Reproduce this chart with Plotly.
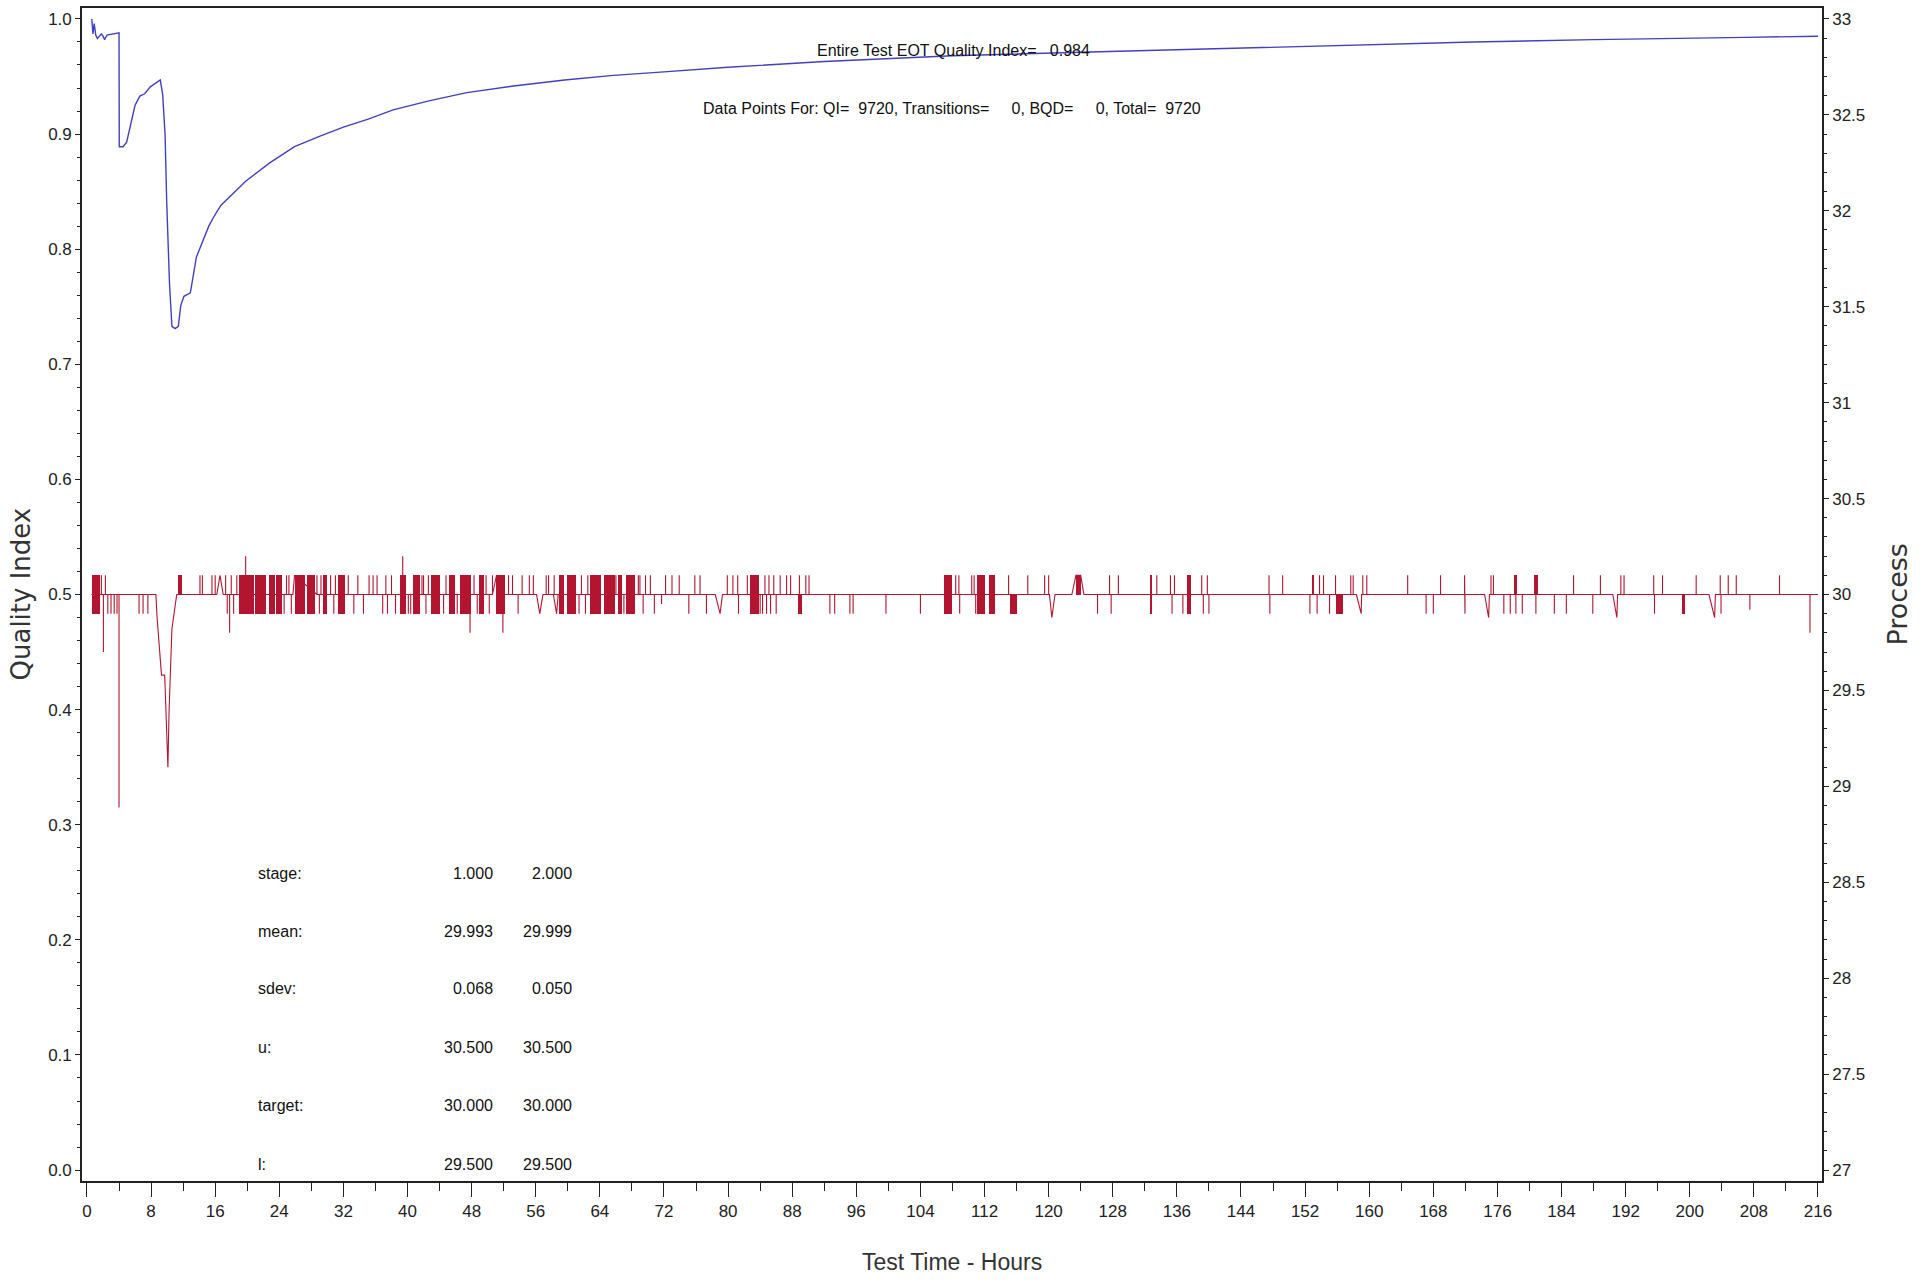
import plotly.graph_objects as go

# ---------------- data ----------------
# Quality index (left axis) vs test time (hours)
qi_hours = [0.6, 0.75, 0.9, 1.1, 1.3, 1.6, 1.8, 2.0, 2.2, 2.5, 3.3, 3.9, 4.0,
            4.03, 4.5, 4.95, 5.4, 6.0, 6.6, 7.2, 7.9, 8.5, 9.0, 9.15, 9.45, 9.75,
            9.95, 10.3, 10.6, 11.0, 11.4, 11.7, 12.1, 12.9, 13.65, 14.4, 15.2, 15.9,
            16.7, 19.8, 22.8, 25.9, 29.0, 32.0, 35.1, 38.2, 42.8, 47.4, 53.5, 59.6,
            65.7, 72.0, 80.0, 92.0, 108.0, 124.0, 140.0, 158.0, 173.0, 188.0, 200.0,
            207.0, 216.0]
qi_values = [1.000, 0.987, 0.996, 0.986, 0.983, 0.986, 0.987, 0.985, 0.982, 0.986, 0.987, 0.988, 0.988,
             0.889, 0.889, 0.893, 0.908, 0.925, 0.933, 0.935, 0.941, 0.944, 0.946, 0.947, 0.934, 0.899,
             0.841, 0.770, 0.733, 0.731, 0.733, 0.751, 0.759, 0.762, 0.793, 0.806, 0.820, 0.829,
             0.838, 0.859, 0.875, 0.889, 0.898, 0.906, 0.913, 0.921, 0.929, 0.936, 0.942, 0.947,
             0.951, 0.954, 0.958, 0.963, 0.968, 0.971, 0.974, 0.977, 0.980, 0.982, 0.983,
             0.984, 0.985]

# Process (right axis): single excursions from the 30.0 baseline
spike_hours = [1.8, 2.05, 2.3, 2.6, 3.0, 3.4, 3.75, 4.0, 6.5, 7.0, 7.6, 14.1, 14.4, 15.6, 16.0,
               17.3, 17.5, 17.8, 18.0, 18.3, 18.7, 19.8, 24.6, 24.9, 25.2, 25.5,
               28.7, 29.0, 29.2, 30.4, 30.8, 31.0, 32.6, 33.3, 33.8, 34.5, 35.2, 35.7, 36.2, 36.9,
               37.3, 37.5, 38.0, 38.5, 39.4, 40.1, 40.4, 41.8, 42.0, 42.3, 42.6, 44.5, 44.8, 46.2,
               47.8, 48.3, 48.7, 49.8, 50.2, 50.6, 51.9, 52.6, 53.1, 53.8, 54.3, 55.2, 55.7, 57.3,
               57.6, 58.3, 61.4, 61.7, 62.2, 62.5, 66.0, 67.0, 68.8, 69.0, 69.4, 69.7, 70.3, 70.8,
               71.7, 72.2, 73.0, 73.9, 75.1, 75.85, 76.5, 77.3, 79.9, 80.6, 81.2, 81.3, 82.4, 84.0,
               84.3, 84.6, 84.8, 85.1, 85.3, 85.7, 86.0, 86.5, 87.3, 87.8, 88.9, 89.7, 90.1, 92.7,
               93.3, 95.2, 95.6, 99.7, 104.0, 108.4, 108.8, 108.9, 110.4, 110.7, 110.9, 115.0,
               117.4, 119.5, 120.0, 126.1, 127.6, 127.8, 128.7, 133.5, 135.2, 135.4, 135.7,
               136.75, 139.1, 139.3, 139.8, 140.0, 147.5, 147.6, 149.2, 152.6, 153.5, 153.8,
               154.3, 155.05, 155.8, 157.7, 158.0, 159.2, 159.7, 164.8, 167.1, 168.0, 168.9,
               171.9, 171.95, 175.2, 175.5, 176.8, 177.6, 178.3, 179.1, 180.8, 183.1, 184.6,
               185.5, 187.9, 188.85, 191.4, 191.8, 195.5, 195.6, 196.6, 200.8, 203.8, 203.9,
               204.8, 205.8, 207.5, 211.2, 215.0]
spike_values = [30.1, 29.7, 30.1, 29.9, 29.9, 29.9, 29.9, 28.89, 29.9, 29.9, 29.9, 30.1, 30.1, 30.1, 30.1,
                30.1, 29.9, 29.8, 30.1, 29.9, 30.1, 30.2, 29.9, 30.1, 30.1, 29.9,
                30.1, 29.9, 30.1, 30.1, 29.9, 30.1, 30.1, 29.9, 30.1, 29.9, 30.1, 30.1, 30.1, 29.9,
                30.1, 29.9, 30.1, 29.9, 30.2, 29.9, 29.9, 30.1, 30.1, 29.9, 30.1, 29.9, 30.1, 29.9,
                29.8, 30.1, 29.9, 30.1, 29.9, 30.1, 29.8, 30.1, 30.1, 29.9, 30.1, 30.1, 30.1, 30.1,
                30.1, 30.1, 29.9, 30.1, 29.9, 30.1, 30.1, 29.9, 30.1, 30.1, 29.9, 30.1, 30.1, 29.9,
                29.95, 30.1, 30.1, 30.1, 29.9, 30.1, 30.1, 29.9, 30.1, 30.1, 30.1, 29.9, 30.1, 29.9,
                29.9, 30.1, 29.9, 30.1, 29.9, 30.1, 29.9, 30.1, 30.1, 30.1, 30.1, 30.1, 30.1, 29.9,
                29.9, 29.9, 29.9, 29.9, 29.9, 30.1, 30.1, 29.9, 30.1, 30.1, 29.9, 30.1,
                30.1, 30.1, 30.1, 29.9, 30.1, 29.9, 30.1, 30.1, 30.1, 29.9, 30.1,
                29.9, 30.1, 29.9, 30.1, 29.9, 30.1, 29.9, 30.1, 29.9, 29.9, 30.1,
                30.1, 29.9, 30.1, 30.1, 30.1, 30.1, 30.1, 30.1, 29.9, 29.9, 30.1,
                30.1, 29.9, 30.1, 30.1, 29.9, 29.9, 29.9, 29.9, 29.9, 29.9, 29.9,
                30.1, 29.9, 30.1, 30.1, 30.1, 30.1, 29.9, 30.1, 30.1, 30.1, 29.9,
                30.1, 30.1, 29.92, 30.1, 29.8]

# Process: sloped excursions, each a run of (hour, value) readings
dip_hours = [
    [8.6, 8.75, 9.3, 9.7, 10.1, 10.25, 10.6, 11.2],
    [16.2, 16.6, 17.0],
    [25.7, 25.9],
    [50.6, 51.1],
    [56.1, 56.5, 56.9],
    [58.2, 58.6, 58.8],
    [78.4, 79.0, 79.3],
    [120.1, 120.4, 120.8],
    [122.9, 123.4],
    [124.0, 124.4],
    [158.4, 159.0, 159.05],
    [174.4, 174.9, 175.0],
    [190.4, 190.9, 191.0],
    [202.4, 203.1, 203.2],
]
dip_values = [
    [30.0, 29.88, 29.58, 29.58, 29.1, 29.4, 29.82, 30.0],
    [30.0, 30.1, 30.0],
    [30.0, 30.1],
    [30.0, 30.1],
    [30.0, 29.9, 30.0],
    [30.0, 29.9, 30.0],
    [30.0, 29.9, 30.0],
    [30.0, 29.88, 30.0],
    [30.0, 30.1],
    [30.1, 30.0],
    [30.0, 29.9, 30.0],
    [30.0, 29.88, 30.0],
    [30.0, 29.88, 30.0],
    [30.0, 29.88, 30.0],
]

# Process: dense oscillation bands (start hour, end hour, low, high)
band_start = [0.6, 11.3, 19.0, 21.0, 22.7, 23.6, 25.9, 27.4, 29.5, 31.3, 39.0, 40.7, 42.9, 45.2,
              46.5, 48.9, 51.1, 58.9, 59.9, 62.8, 64.5, 66.3, 67.3, 82.7, 88.75, 106.9, 111.1,
              112.5, 115.2, 123.4, 132.7, 137.3, 152.8, 155.9, 178.1, 180.6, 199.0]
band_end = [1.6, 11.9, 20.8, 22.4, 23.4, 24.3, 27.2, 28.4, 30.0, 32.2, 39.8, 41.5, 44.1, 45.9,
            47.9, 49.5, 52.2, 59.5, 61.0, 64.2, 65.9, 66.8, 68.4, 83.8, 89.2, 107.9, 112.1,
            113.3, 116.0, 124.0, 132.95, 137.7, 153.1, 156.7, 178.5, 181.1, 199.4]
band_low = [29.9, 30.0, 29.9, 29.9, 29.9, 29.9, 29.9, 29.9, 29.9, 29.9, 29.9, 29.9, 29.9, 29.9,
            29.9, 29.9, 29.9, 29.9, 29.9, 29.9, 29.9, 29.9, 29.9, 29.9, 29.9, 29.9, 29.9,
            29.9, 29.9, 30.0, 29.9, 29.9, 30.0, 29.9, 30.0, 30.0, 29.9]
band_high = [30.1, 30.1, 30.1, 30.1, 30.1, 30.1, 30.1, 30.1, 30.1, 30.1, 30.1, 30.1, 30.1, 30.1,
             30.1, 30.1, 30.1, 30.1, 30.1, 30.1, 30.1, 30.1, 30.1, 30.1, 30.0, 30.1, 30.1,
             30.1, 30.0, 30.1, 30.1, 30.1, 30.1, 30.0, 30.1, 30.1, 30.0]

process_target = 30.0
process_first_hour = 0.55
process_last_hour = 216.0

stats_labels = ["stage:", "mean:", "sdev:", "u:", "target:", "l:"]
stats_stage1 = ["1.000", "29.993", "0.068", "30.500", "30.000", "29.500"]
stats_stage2 = ["2.000", "29.999", "0.050", "30.500", "30.000", "29.500"]

header_line1 = "Entire Test EOT Quality Index=\u00a0\u00a0 0.984"
header_line2 = ("Data Points For: QI=\u00a0 9720, Transitions=\u00a0\u00a0\u00a0\u00a0 0, "
                "BQD=\u00a0\u00a0\u00a0\u00a0 0, Total=\u00a0 9720")

# ---------------- build process path ----------------
events = []
for t, v in zip(spike_hours, spike_values):
    events.append((t, [(t, process_target), (t, v), (t, process_target)]))
for hs, vs in zip(dip_hours, dip_values):
    events.append((hs[0], list(zip(hs, vs))))
events.sort(key=lambda e: e[0])

px_ = [process_first_hour]
py_ = [process_target]
for _, pts in events:
    for t, v in pts:
        px_.append(t)
        py_.append(v)
px_.append(process_last_hour)
py_.append(process_target)

RED = "#b3142f"
BLUE = "#4040c4"
FONT = "Liberation Sans, Arial, Helvetica, sans-serif"
TITLE_FONT = "DejaVu Sans, Liberation Sans, Arial, sans-serif"

fig = go.Figure()

fig.add_trace(go.Bar(
    x=[(a + b) / 2 for a, b in zip(band_start, band_end)],
    y=[h - l for l, h in zip(band_low, band_high)],
    base=band_low,
    width=[b - a for a, b in zip(band_start, band_end)],
    marker=dict(color=RED, line=dict(width=0)),
    yaxis="y2", showlegend=False, hoverinfo="skip",
))
fig.add_trace(go.Scatter(
    x=px_, y=py_, mode="lines", yaxis="y2",
    line=dict(color=RED, width=1.1), showlegend=False,
))
fig.add_trace(go.Scatter(
    x=qi_hours, y=qi_values, mode="lines", yaxis="y",
    line=dict(color=BLUE, width=1.4), showlegend=False,
))

# plot-area pixel geometry
L, R, T, B = 82, 1822, 6, 1181
W, H = 1925, 1280
pw, ph = R - L, B - T


def px2paper_x(p):
    return (p - L) / pw


def px2paper_y(p):
    return (B - p) / ph


TXT = dict(family=FONT, size=16, color="#111")
annotations = []
annotations.append(dict(text=header_line1, x=px2paper_x(953), y=px2paper_y(49),
                        xref="paper", yref="paper", showarrow=False,
                        xanchor="center", yanchor="middle", font=TXT))
annotations.append(dict(text=header_line2, x=px2paper_x(952), y=px2paper_y(107),
                        xref="paper", yref="paper", showarrow=False,
                        xanchor="center", yanchor="middle", font=TXT))

row_y = [873, 931, 988, 1047, 1105, 1164]
for lab, v1, v2, yy in zip(stats_labels, stats_stage1, stats_stage2, row_y):
    annotations.append(dict(text=lab, x=px2paper_x(256), y=px2paper_y(yy), xref="paper", yref="paper",
                            showarrow=False, xanchor="left", yanchor="middle", font=TXT))
    annotations.append(dict(text=v1, x=px2paper_x(495), y=px2paper_y(yy), xref="paper", yref="paper",
                            showarrow=False, xanchor="right", yanchor="middle", font=TXT))
    annotations.append(dict(text=v2, x=px2paper_x(574), y=px2paper_y(yy), xref="paper", yref="paper",
                            showarrow=False, xanchor="right", yanchor="middle", font=TXT))

# axis titles
annotations.append(dict(text="Quality Index", x=px2paper_x(20), y=0.5, xref="paper", yref="paper",
                        showarrow=False, textangle=-90, xanchor="center", yanchor="middle",
                        font=dict(family=TITLE_FONT, size=26, color="#333")))
annotations.append(dict(text="Process", x=px2paper_x(1897), y=0.5, xref="paper", yref="paper",
                        showarrow=False, textangle=-90, xanchor="center", yanchor="middle",
                        font=dict(family=TITLE_FONT, size=27, color="#333")))
annotations.append(dict(text="Test Time - Hours", x=0.5, y=px2paper_y(1262), xref="paper", yref="paper",
                        showarrow=False, xanchor="center", yanchor="middle",
                        font=dict(family=FONT, size=23, color="#333")))

axis_common = dict(showgrid=False, zeroline=False, showline=True, linecolor="#222", linewidth=1.6,
                   ticks="outside", tickcolor="#222", tickwidth=1.3,
                   tickfont=dict(family=FONT, size=17, color="#222"))

fig.update_layout(
    width=W, height=H,
    margin=dict(l=L, r=W - R, t=T, b=H - B, pad=0),
    paper_bgcolor="white", plot_bgcolor="white",
    showlegend=False, bargap=0,
    annotations=annotations,
    xaxis=dict(range=[-0.62, 216.5], tick0=0, dtick=8, ticklen=14, mirror=True,
               minor=dict(dtick=4, ticklen=8, ticks="outside", tickcolor="#222", tickwidth=1.3),
               **axis_common),
    yaxis=dict(range=[-0.0095, 1.0095], tick0=0, dtick=0.1, tickformat=".1f", ticklen=5,
               minor=dict(dtick=0.02, ticklen=3, ticks="outside", tickcolor="#222", tickwidth=1.2),
               **axis_common),
    yaxis2=dict(range=[27 - 0.0095 * 6, 33 + 0.0095 * 6], overlaying="y", side="right",
                tick0=27, dtick=0.5, ticklen=5,
                minor=dict(dtick=0.1, ticklen=3, ticks="outside", tickcolor="#222", tickwidth=1.2),
                **axis_common),
)

fig.write_html("out.html", config={"displayModeBar": False},
               post_script="document.body.style.margin='0px';")
